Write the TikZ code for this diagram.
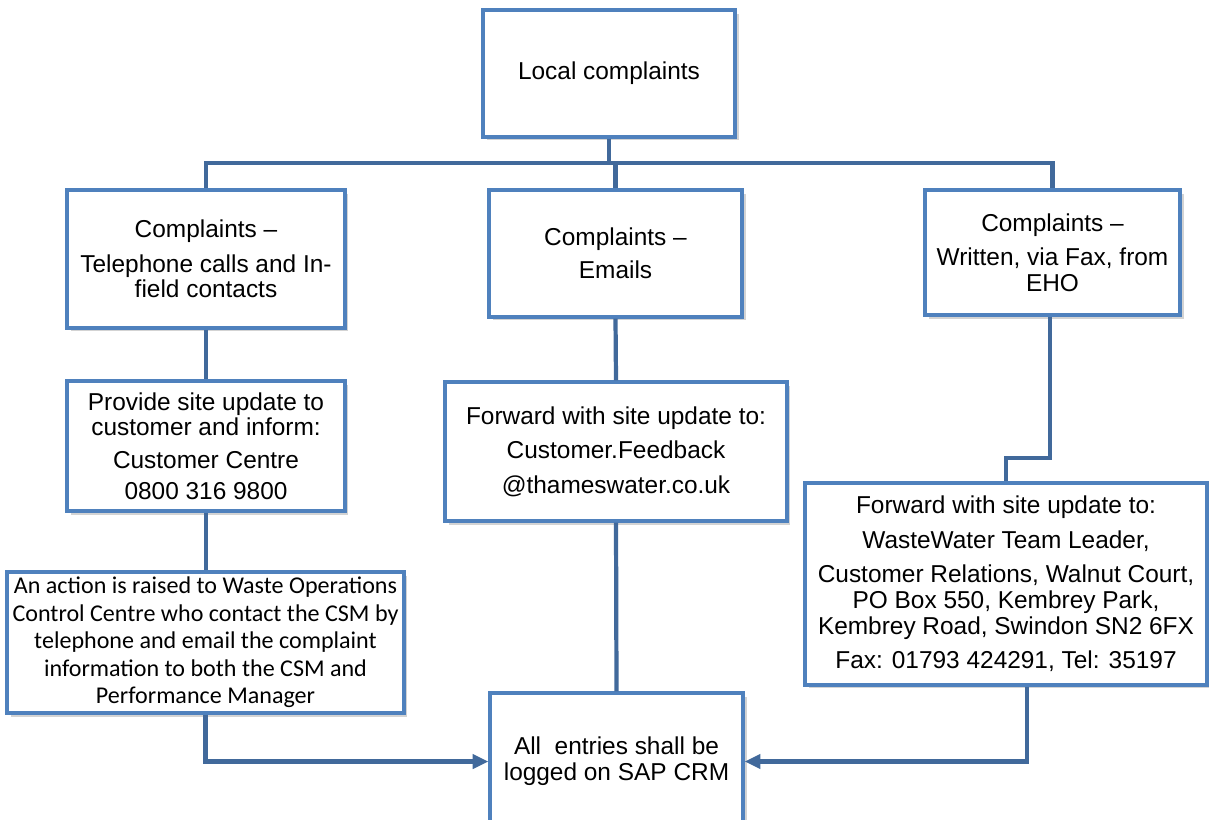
\documentclass[tikz,border=0pt]{standalone}
\usepackage{fontspec}
\setmainfont{Liberation Sans}
\newfontfamily\calibri{Carlito}
\usetikzlibrary{arrows.meta,shadows}
\definecolor{boxblue}{HTML}{4F81BD}
\definecolor{linkblue}{HTML}{41699B}

\begin{document}
\begin{tikzpicture}[x=0.02cm,y=-0.02cm,
    flowbox/.style={draw=boxblue,line width=1.8pt,fill=white,inner sep=0pt,align=center,
      drop shadow={shadow xshift=2pt,shadow yshift=-2pt,opacity=0.35},
      font=\fontsize{13.9}{14.6}\selectfont},
    link/.style={draw=linkblue,line width=2.4pt},
    into/.style={link,-{Triangle[length=9pt,width=8pt]}}]
  \useasboundingbox (0,0) rectangle (1209,820);
  % boxes
  \node[flowbox,minimum width=5.04cm,minimum height=2.54cm] (top) at (609,73.5) {Local complaints};
  \node[flowbox,minimum width=5.56cm,minimum height=2.76cm] (phone) at (206,259)
    {Complaints –\\[5pt]Telephone calls and In-\\field contacts};
  \node[flowbox,minimum width=5.06cm,minimum height=2.54cm] (email) at (615.5,253.5)
    {Complaints –\\[4pt]Emails};
  \node[flowbox,minimum width=5.10cm,minimum height=2.50cm] (written) at (1052.5,252.5)
    {Complaints –\\[5pt]Written, via Fax, from\\EHO};
  \node[flowbox,minimum width=5.56cm,minimum height=2.60cm] (centre) at (206,446)
    {Provide site update to\\customer and inform:\\[4pt]Customer Centre\\[3pt]0800 316 9800};
  \node[flowbox,minimum width=6.84cm,minimum height=2.78cm] (feedback) at (616,451.5)
    {Forward with site update to:\\[5pt]Customer.Feedback\\[5pt]@thameswater.co.uk};
  \node[flowbox,minimum width=8.04cm,minimum height=4.04cm] (leader) at (1006,584)
    {Forward with site update to:\\[5pt]WasteWater Team Leader,\\[5pt]Customer Relations, Walnut Court,\\PO Box 550, Kembrey Park,\\Kembrey Road, Swindon SN2 6FX\\[5pt]Fax: 01793 424291, Tel: 35197};
  \node[flowbox,minimum width=7.94cm,minimum height=2.82cm,
    font=\calibri\fontsize{13.7}{15.7}\selectfont] (action) at (205.5,642.5)
    {An action is raised to Waste Operations\\Control Centre who contact the CSM by\\telephone and email the complaint\\information to both the CSM and\\Performance Manager};
  \node[flowbox,minimum width=5.06cm,minimum height=2.74cm] (crm) at (616.5,761.5)
    {All\ \ entries shall be\\logged on SAP CRM};
  % connectors
  \coordinate (bus) at (609,163);
  \coordinate (bend) at (1050,458);
  \draw[link] (top.south) -- (bus);
  \draw[link] (phone.north) |- (bus) -| (written.north);
  \draw[link] (email.north) -- (email.north |- bus);
  \draw[link] (phone.south) -- (centre.north);
  \draw[link] (centre.south) -- (centre.south |- action.north);
  \draw[link] (email.south) -- (feedback.north);
  \draw[link] (feedback.south) -- (crm.north);
  \draw[link] (written.south -| bend) -- (bend) -| (leader.north);
  \draw[into] (action.south) |- (crm.west);
  \draw[into] ([xshift=0.42cm]leader.south) |- (crm.east);
\end{tikzpicture}
\end{document}
